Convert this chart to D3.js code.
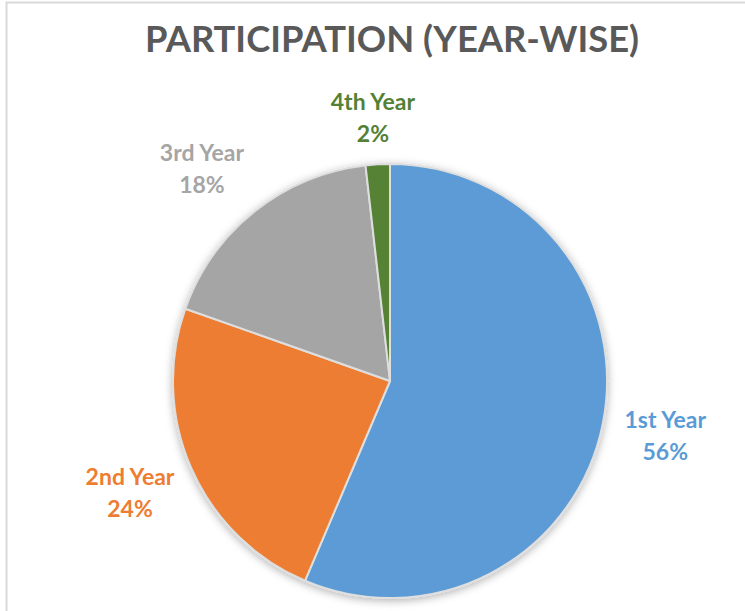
<!DOCTYPE html>
<html>
<head>
<meta charset="utf-8">
<script src="https://cdn.jsdelivr.net/npm/d3@7"></script>
<style>
  body { margin: 0; background: #fff; }
  svg { display: block; }
</style>
</head>
<body>
<div id="chart"></div>
<script>
// data (share of participants)
const years = ["1st Year", "2nd Year", "3rd Year", "4th Year"];
const shares = [56.4, 24.0, 17.8, 1.8];
const colors = ["#5b9bd5", "#ed7d31", "#a5a5a5", "#548235"];
const labelColors = ["#5b9bd5", "#ed7d31", "#a5a5a5", "#538135"];
const title = "PARTICIPATION (YEAR-WISE)";

const width = 745, height = 611;
const cx = 390, cy = 381, radius = 217;

const svg = d3.select("#chart").append("svg")
  .attr("width", width)
  .attr("height", height);

// chart area border
svg.append("rect")
  .attr("x", 6.5).attr("y", 2.5)
  .attr("width", 800).attr("height", 700)
  .attr("fill", "#fff")
  .attr("stroke", "#d9d9d9")
  .attr("stroke-width", 2);

// soft shadow like the office pie
const defs = svg.append("defs");
const f = defs.append("filter").attr("id", "shadow")
  .attr("x", "-20%").attr("y", "-20%").attr("width", "140%").attr("height", "140%");
f.append("feDropShadow")
  .attr("dx", 0).attr("dy", 2)
  .attr("stdDeviation", 4)
  .attr("flood-color", "#000")
  .attr("flood-opacity", 0.3);

// title
svg.append("text")
  .attr("x", 392).attr("y", 52)
  .attr("text-anchor", "middle")
  .attr("font-family", "Lato, 'Open Sans', sans-serif")
  .attr("font-weight", "bold")
  .attr("font-size", 37)
  .attr("fill", "#595959")
  .attr("textLength", 494)
  .attr("lengthAdjust", "spacingAndGlyphs")
  .text(title);

const data = years.map((y, i) => ({ year: y, value: shares[i], color: colors[i], lc: labelColors[i] }));
const total = d3.sum(shares);

const pie = d3.pie().sort(null).value(d => d.value);
const arc = d3.arc().innerRadius(0).outerRadius(radius);
const arcs = pie(data);

const g = svg.append("g").attr("transform", `translate(${cx},${cy})`);

g.append("g")
  .attr("filter", "url(#shadow)")
  .selectAll("path")
  .data(arcs)
  .enter().append("path")
  .attr("d", arc)
  .attr("fill", d => d.data.color)
  .attr("stroke", "#dedede")
  .attr("stroke-width", 2)
  .attr("stroke-linejoin", "round");

// outside-end labels
const fmt = d3.format(".0%");
const boxW = 88, boxH = 55, lineH = 32, gap = 19;
const clamp = v => Math.max(-1, Math.min(1, v));

const labels = g.selectAll(".lbl")
  .data(arcs)
  .enter().append("text")
  .attr("class", "lbl")
  .attr("text-anchor", "middle")
  .attr("font-family", "Lato, 'Open Sans', sans-serif")
  .attr("font-weight", "bold")
  .attr("font-size", 23)
  .attr("fill", d => d.data.lc)
  .attr("transform", d => {
    const a = (d.startAngle + d.endAngle) / 2;
    const ux = Math.sin(a), uy = -Math.cos(a);
    const px = ux * (radius + gap), py = uy * (radius + gap);
    const x = px + clamp(ux * 1.5) * boxW / 2;
    const y = py + clamp(uy * 1.5) * boxH / 2;
    return `translate(${x},${y})`;
  });

labels.append("tspan")
  .attr("x", 0).attr("y", -lineH / 2 + 8)
  .text(d => d.data.year);
labels.append("tspan")
  .attr("x", 0).attr("y", lineH / 2 + 8)
  .text(d => fmt(d.data.value / total));
</script>
</body>
</html>
